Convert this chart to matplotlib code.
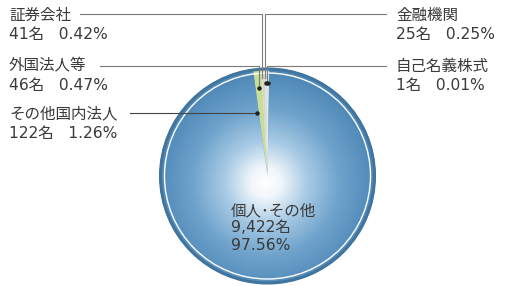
import matplotlib
matplotlib.use("Agg")
import matplotlib.pyplot as plt
import numpy as np
from matplotlib.colors import LinearSegmentedColormap
from matplotlib.patches import Circle

plt.rcParams['font.family'] = ['Noto Sans CJK JP', 'DejaVu Sans']
NUM_FONT = ['DejaVu Sans', 'Noto Sans CJK JP']

# shareholder categories, starting just right of 12 o'clock, counter-clockwise
CATEGORIES = ["金融機関", "自己名義株式", "証券会社", "外国法人等", "その他国内法人", "個人･その他"]
COUNTS = ["25名", "1名", "41名", "46名", "122名", "9,422名"]
PERCENTS = [0.25, 0.01, 0.42, 0.47, 1.26, 97.56]
SLICE_COLORS = ["#e4e6e4", "#d6d9d8", "#dcdfde", "#d2d6d5", "#cadd96", "#5b93c0"]

W, H = 505, 286
CX, CY, R = 267.5, 176, 108


def Y(y):
    # image pixel row -> data y
    return H - y


fig = plt.figure(figsize=(W / 100, H / 100), dpi=100)
ax = fig.add_axes([0, 0, 1, 1])
ax.set_xlim(0, W)
ax.set_ylim(0, H)
ax.set_aspect("equal")
ax.axis("off")

start = 90 - (PERCENTS[0] + PERCENTS[1]) * 3.6
wedges, _ = ax.pie(PERCENTS, colors=SLICE_COLORS, startangle=start,
                   counterclock=True, center=(CX, Y(CY)), radius=R,
                   wedgeprops=dict(linewidth=0))
ax.set_xlim(0, W)
ax.set_ylim(0, H)

# radial gradient on the big slice
cmap = LinearSegmentedColormap.from_list(
    "blue", [(0, "#ffffff"), (0.14, "#f0f6fb"), (0.38, "#a9cbe5"),
             (0.68, "#6fa3cc"), (1.0, "#5089b8")])
gx = np.linspace(-1, 1, 400)
gxx, gyy = np.meshgrid(gx, gx)
rr = np.clip(np.hypot(gxx + 0.02, gyy + 0.06), 0, 1)
img = ax.imshow(rr, cmap=cmap, vmin=0, vmax=1, origin="lower",
                extent=(CX - R, CX + R, Y(CY) - R, Y(CY) + R), zorder=2)
img.set_clip_path(wedges[-1])

ax.add_patch(Circle((CX, Y(CY)), R - 1, fill=False, ec="#41759e", lw=2.2, zorder=3))
ax.add_patch(Circle((CX, Y(CY)), R - 5, fill=False, ec="white", lw=1.0, zorder=3))

# leader lines
lc = "#7a7a7a"
ax.plot([80, 262, 262], [Y(14), Y(14), Y(78)], color=lc, lw=0.8, zorder=4)
ax.plot([386, 264.5, 264.5], [Y(14), Y(14), Y(78)], color=lc, lw=0.8, zorder=4)
ax.plot([100, 259, 259], [Y(66), Y(66), Y(88)], color=lc, lw=0.8, zorder=4)
ax.plot([386, 267, 267], [Y(66), Y(66), Y(82)], color=lc, lw=0.8, zorder=4)
ax.plot([130, 257], [Y(113), Y(113)], color="#444", lw=0.8, zorder=4)
ax.plot([259, 265.5, 268, 257], [Y(88), Y(83), Y(83), Y(113)], "o",
        color="#222", ms=2.2, zorder=5)

tc = "#3a3a3a"
fs = 11.2
nfs = 11.2
label_pos = {
    "証券会社": (9, 15),
    "外国法人等": (9, 66),
    "その他国内法人": (9, 114),
    "金融機関": (396, 15),
    "自己名義株式": (396, 66),
}
for cat, cnt, pct in zip(CATEGORIES[:-1], COUNTS[:-1], PERCENTS[:-1]):
    x, y = label_pos[cat]
    ax.text(x, Y(y), cat, fontsize=fs, color=tc, va="center", ha="left")
    ax.text(x, Y(y + 19), f"{cnt}   {pct:.2f}%", fontsize=nfs, color=tc,
            va="center", ha="left", family=NUM_FONT)

ax.text(231, Y(211), CATEGORIES[-1], fontsize=fs, color=tc, va="center")
ax.text(231, Y(228), COUNTS[-1], fontsize=nfs, color=tc, va="center",
        family=NUM_FONT)
ax.text(231, Y(245), f"{PERCENTS[-1]:.2f}%", fontsize=nfs, color=tc,
        va="center", family=NUM_FONT)

fig.savefig("out.png", dpi=100, facecolor="white")
